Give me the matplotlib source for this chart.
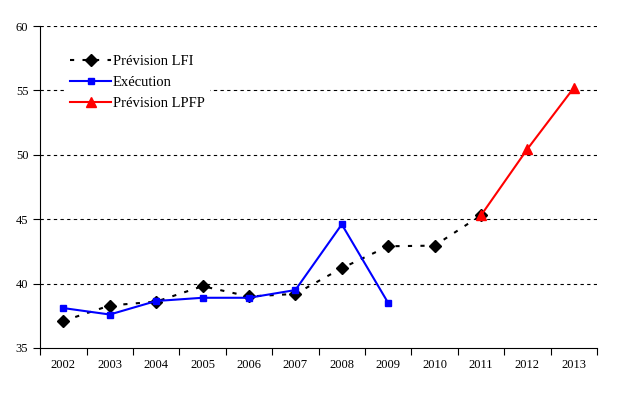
import matplotlib.pyplot as plt
import numpy as np

plt.rcParams['font.family'] = ['Liberation Serif', 'DejaVu Serif']

years = ['2002', '2003', '2004', '2005', '2006', '2007',
         '2008', '2009', '2010', '2011', '2012', '2013']
lfi = [37.1, 38.3, 38.6, 39.8, 39.0, 39.2, 41.2, 42.9, 42.95, 45.3]
execution = [38.1, 37.6, 38.65, 38.9, 38.9, 39.5, 44.6, 38.5]
lpfp_years = ['2011', '2012', '2013']
lpfp = [45.3, 50.45, 55.2]

x = np.arange(len(years))
x_lpfp = [years.index(y) for y in lpfp_years]

fig = plt.figure(figsize=(6.18, 3.95), dpi=100)
ax = fig.add_axes([0.065, 0.119, 0.901, 0.815])

for v in [40, 45, 50, 55, 60]:
    ax.axhline(v, color='black', lw=0.8, ls=(0, (3, 3)), zorder=0)

ax.plot(x[:len(lfi)], lfi, color='black', ls=(0, (2, 4)), lw=1.5,
        marker='D', ms=6, label='Prévision LFI', zorder=3)
ax.plot(x[:len(execution)], execution, color='#0000ff', lw=1.5,
        marker='s', ms=5, label='Exécution', zorder=4)
ax.plot(x_lpfp, lpfp, color='#ff0000', lw=1.5,
        marker='^', ms=7, label='Prévision LPFP', zorder=5)

ax.set_xlim(-0.5, len(years) - 0.5)
ax.set_ylim(35, 60)
ax.set_yticks([35, 40, 45, 50, 55, 60])
ax.set_xticks(np.arange(-0.5, len(years), 1))
ax.set_xticklabels([])
ax.set_xticks(x, minor=True)
ax.set_xticklabels(years, minor=True)
ax.tick_params(axis='x', which='minor', length=0, labelsize=9, pad=8)
ax.tick_params(axis='x', which='major', length=5, direction='out')
ax.tick_params(axis='y', length=5, labelsize=9)

for s in ['top', 'right']:
    ax.spines[s].set_visible(False)

leg = ax.legend(loc='upper left', bbox_to_anchor=(0.033, 0.948), frameon=True,
                fontsize=10.5, handlelength=2.8, handletextpad=0.1,
                borderpad=0.3, labelspacing=0.55)
leg.get_frame().set_edgecolor('white')
leg.get_frame().set_facecolor('white')
leg.get_frame().set_alpha(1)
leg.get_frame().set_boxstyle('square', pad=0)

fig.savefig('out.png', dpi=100)
